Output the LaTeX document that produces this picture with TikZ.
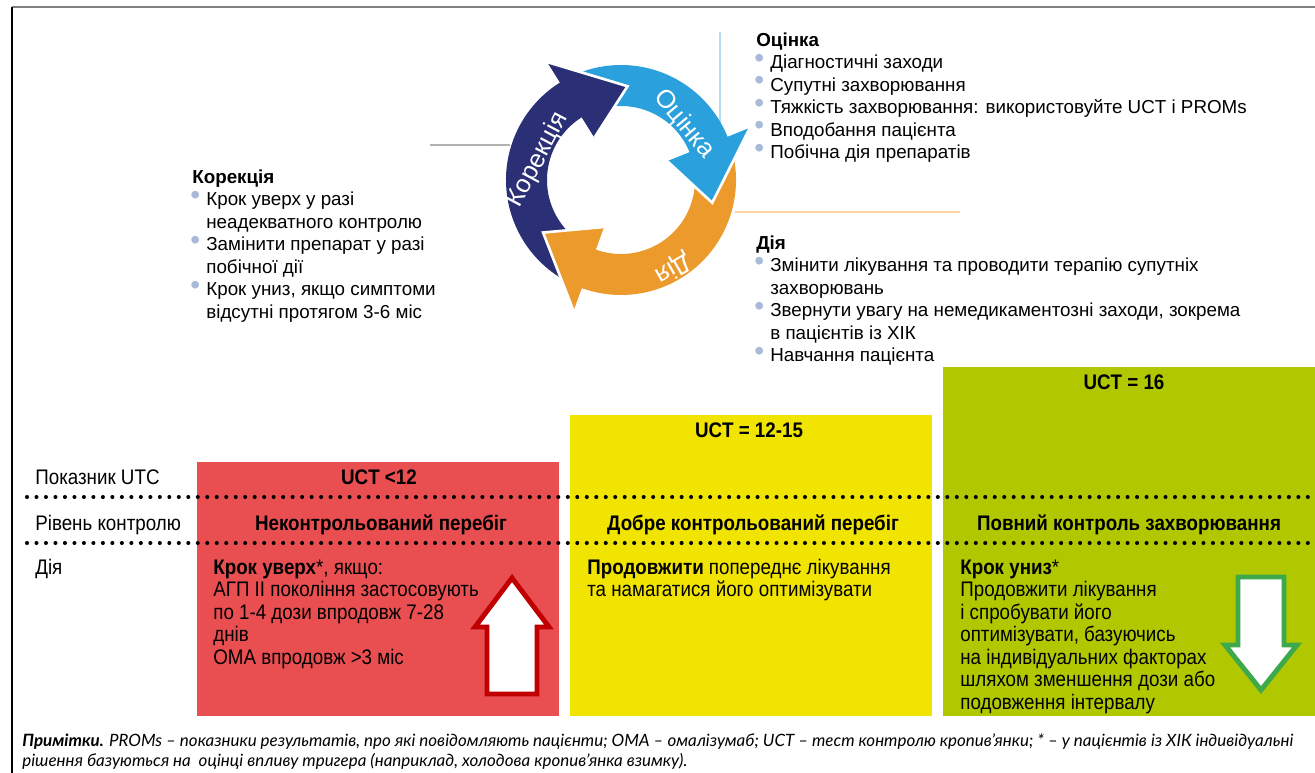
\documentclass[tikz,border=0pt]{standalone}
\usepackage{fontspec}
\setmainfont{Liberation Sans}
\newfontfamily\narrowfont[FakeStretch=0.89]{Liberation Sans}
\newfontfamily\notefont{Lato}
\usetikzlibrary{calc}

\definecolor{navy}{HTML}{2B2F76}
\definecolor{sky}{HTML}{2AA0DC}
\definecolor{amber}{HTML}{EC9A2C}
\definecolor{redbox}{HTML}{E94E51}
\definecolor{yellowbox}{HTML}{F0E400}
\definecolor{greenbox}{HTML}{B1C800}
\definecolor{upred}{HTML}{C00000}
\definecolor{downgreen}{HTML}{3DA94A}
\definecolor{bulletc}{HTML}{A8B9D9}

\newcommand{\bul}{\makebox[0.28cm][l]{\hspace*{-0.04cm}\textcolor{bulletc}{\raisebox{0.9pt}{\fontsize{16}{16}\selectfont\textbullet}}}}
\newcommand{\bulind}{\hspace*{0.28cm}}

\begin{document}
\begin{tikzpicture}[x=0.02cm, y=-0.02cm,
  listtext/.style={anchor=north west, inner sep=0pt, align=left,
    font=\fontsize{10.7}{12.76}\selectfont},
  celltext/.style={anchor=north west, inner sep=0pt, align=left,
    font=\narrowfont\fontsize{12}{12.76}\selectfont},
  cellhead/.style={anchor=base, inner sep=0pt,
    font=\narrowfont\bfseries\fontsize{12}{12.76}\selectfont},
  rowlabel/.style={anchor=base west, inner sep=0pt,
    font=\narrowfont\fontsize{12}{12.76}\selectfont},
  arclabel/.style={text=white, inner sep=0pt, font=\fontsize{14.5}{16}\selectfont},
  dotline/.style={line width=2.3pt, line cap=round, dash pattern=on 0pt off 5.4pt},
  fatarrow/.style={fill=white, line width=2.8pt, line join=miter},
  faint/.style={line width=1.2pt}
]
\useasboundingbox (0,0) rectangle (1315,773);

% frame
\draw[gray, line width=1.6pt] (12,7) -- (1315,7);
\draw[black, line width=0.9pt] (12,7) -- (12,773);

% faint guide lines behind the cycle
\draw[faint, sky!35] (720,32) -- (720,150);
\draw[faint, orange!35] (735,212) -- (960,212);
\draw[faint, gray!60] (430,145) -- (510,145);

% cycle
\begin{scope}[shift={(621,180)}, yscale=-1]
  \foreach \col/\ta/\hb in {navy/249/122, sky/121/22, amber/21/-110}{
    \fill[\col] (\ta:115) arc[start angle=\ta, end angle=\hb, radius=115]
      -- (\hb:139) -- ({\hb-36}:94) -- (\hb:50) -- (\hb:74)
      arc[start angle=\hb, end angle=\ta, radius=74] -- cycle;
  }
  \foreach \col/\hb in {navy/122, sky/22, amber/-110}{
    \fill[\col, draw=white, line width=1.5pt] (\hb:139) -- ({\hb-36}:94) -- (\hb:50);
  }
\end{scope}
\node[arclabel, rotate=-50] (lblassess) at (684,124) {Оцінка};
\node[arclabel, rotate=62] (lblcorrect) at (538,160) {Корекція};
\node[arclabel, rotate=-150] (lblact) at (673,268) {Дія};

% lists
\node[listtext] (assess) at (756,30.5) {\strut\textbf{Оцінка}\\
  \bul Діагностичні заходи\\
  \bul Супутні захворювання\\
  \bul Тяжкість захворювання: використовуйте UCT і PROMs\\
  \bul Вподобання пацієнта\\
  \bul Побічна дія препаратів};
\node[listtext] (act) at (756,233.5) {\strut\textbf{Дія}\\
  \bul Змінити лікування та проводити терапію супутніх\\
  \bulind захворювань\\
  \bul Звернути увагу на немедикаментозні заходи, зокрема\\
  \bulind в пацієнтів із ХІК\\
  \bul Навчання пацієнта};
\node[listtext] (correct) at (192,167.5) {\strut\textbf{Корекція}\\
  \bul Крок уверх у разі\\
  \bulind неадекватного контролю\\
  \bul Замінити препарат у разі\\
  \bulind побічної дії\\
  \bul Крок униз, якщо симптоми\\
  \bulind відсутні протягом 3-6 міс};

% table columns
\fill[redbox] (197,462) rectangle (559,716);
\fill[yellowbox] (570,415) rectangle (932,716);
\fill[greenbox] (943,367) rectangle (1315,716);

\foreach \ya in {497,543}
  \draw[dotline] (27,\ya) -- (1312,\ya);

\node[rowlabel] (rowuct) at (35,484) {Показник UTC};
\node[rowlabel] (rowlevel) at (35,530) {Рівень контролю};
\node[rowlabel] (rowact) at (35,574) {Дія};

\node[cellhead] (uctlow) at (379,484) {UCT <12};
\node[cellhead] (uctmid) at (749,438) {UCT = 12-15};
\node[cellhead] (ucthigh) at (1124,390) {UCT = 16};

\node[cellhead] (lvllow) at (381,530) {Неконтрольований перебіг};
\node[cellhead] (lvlmid) at (753,530) {Добре контрольований перебіг};
\node[cellhead] (lvlhigh) at (1129,530) {Повний контроль захворювання};

\node[celltext] (actlow) at (213,558.5) {\strut{\bfseries Крок уверх}*, якщо:\\
  АГП ІІ покоління застосовують\\
  по 1-4 дози впродовж 7-28\\
  днів\\
  ОМА впродовж >3 міс};
\node[celltext] (actmid) at (587,558.5) {\strut{\bfseries Продовжити} попереднє лікування\\
  та намагатися його оптимізувати};
\node[celltext] (acthigh) at (960,558.5) {\strut{\bfseries Крок униз}*\\
  Продовжити лікування\\
  і спробувати його\\
  оптимізувати, базуючись\\
  на індивідуальних факторах\\
  шляхом зменшення дози або\\
  подовження інтервалу};

% step arrows
\draw[fatarrow, draw=upred] (487,694) -- (487,627) -- (475,627) -- (512,578)
  -- (549,627) -- (537,627) -- (537,694) -- cycle;
\draw[fatarrow, draw=downgreen] (1238,577) -- (1238,645) -- (1225,645) -- (1261,690)
  -- (1297,645) -- (1284,645) -- (1284,577) -- cycle;

% note
\node[anchor=north west, inner sep=0pt, align=left,
  font=\notefont\itshape\fontsize{9.65}{11.3}\selectfont] (note) at (22,732)
  {\strut\textbf{Примітки.} PROMs – показники результатів, про які повідомляють пацієнти; ОМА – омалізумаб; UCT – тест контролю кропив’янки; * – у пацієнтів із ХІК індивідуальні\\
  рішення базуються на\ \ оцінці впливу тригера (наприклад, холодова кропив’янка взимку).};
\end{tikzpicture}
\end{document}
